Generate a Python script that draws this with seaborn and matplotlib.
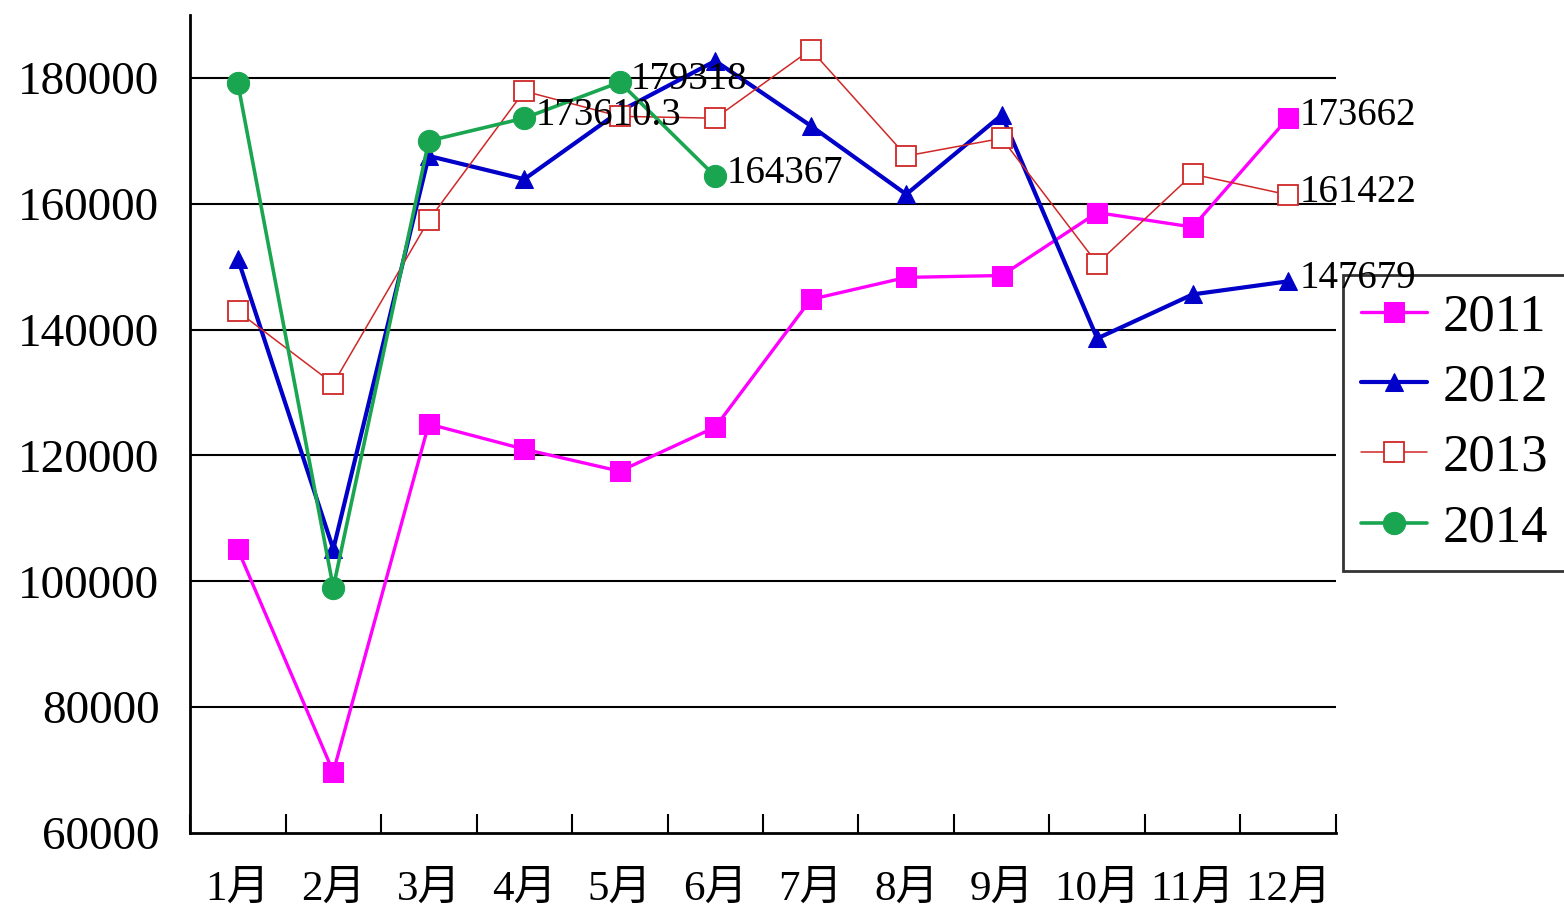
import numpy as np
import pandas as pd
import matplotlib
matplotlib.use("Agg")
import matplotlib.pyplot as plt
import seaborn as sns

months = ["1月", "2月", "3月", "4月", "5月", "6月",
          "7月", "8月", "9月", "10月", "11月", "12月"]

v2011 = [105100, 69700, 125000, 121000, 117500, 124500,
         144800, 148300, 148600, 158600, 156300, 173662]
v2012 = [151300, 105100, 167600, 163900, 174700, 182700,
         172400, 161500, 174100, 138600, 145600, 147679]
v2013 = [142900, 131400, 157400, 177900, 173900, 173600,
         184500, 167600, 170400, 150500, 164700, 161422]
v2014 = [179200, 99000, 170000, 173610.3, 179318, 164367]

yticks = [60000, 80000, 100000, 120000, 140000, 160000, 180000]

# series / month index that carry a value label
labelled = [("2011", 11), ("2013", 11), ("2012", 11),
            ("2014", 3), ("2014", 4), ("2014", 5)]

sns.set_theme(style="white")
plt.rcParams["font.family"] = ["Liberation Serif", "Noto Sans CJK SC"]
plt.rcParams["text.color"] = "black"
plt.rcParams["xtick.color"] = "black"
plt.rcParams["ytick.color"] = "black"

fig = plt.figure(figsize=(15.64, 9.15), dpi=100)
ax = fig.add_axes([0.1215, 0.0896, 0.7327, 0.894])

styles = {
    "2011": dict(color="#FF00FF", marker="s", markersize=15, linewidth=2.4,
                 markerfacecolor="#FF00FF", markeredgecolor="#FF00FF"),
    "2012": dict(color="#0000C8", marker="^", markersize=13, linewidth=3.0,
                 markerfacecolor="#0000C8", markeredgecolor="#0000C8"),
    "2013": dict(color="#D02828", marker="s", markersize=14, linewidth=1.1,
                 markerfacecolor="white", markeredgecolor="#D02828",
                 markeredgewidth=1.3),
    "2014": dict(color="#1AA650", marker="o", markersize=16, linewidth=2.6,
                 markerfacecolor="#1AA650", markeredgecolor="#1AA650"),
}

series = {"2011": v2011, "2012": v2012, "2013": v2013, "2014": v2014}
for name, vals in series.items():
    x = np.arange(len(vals))
    sns.lineplot(x=x, y=vals, ax=ax, label=name, **styles[name])

for name, i in labelled:
    val = series[name][i]
    txt = str(val)
    ax.annotate(txt, (i, val), xytext=(8, 2), textcoords="offset points",
                va="center", ha="left", fontsize=28, color="black",
                annotation_clip=False, zorder=10)

ax.set_xlim(-0.5, 11.5)
ax.set_ylim(60000, 190000)
ax.set_yticks(yticks)
ax.set_yticklabels([str(t) for t in yticks])
ax.set_xticks(np.arange(12))
ax.set_xticklabels(months)
ax.set_xticks(np.arange(-0.5, 12, 1), minor=True)
ax.tick_params(axis="x", which="major", length=0, pad=27, labelsize=31)
ax.tick_params(axis="x", which="minor", direction="in", length=14,
               width=1.5, color="black", bottom=True)
ax.tick_params(axis="y", length=0, pad=22, labelsize=34)
ax.set_xlabel("")
ax.set_ylabel("")

for t in yticks[1:]:
    ax.axhline(t, color="black", linewidth=1.5, zorder=0)

sns.despine(ax=ax, top=True, right=True)
for s in ["left", "bottom"]:
    ax.spines[s].set_color("black")
    ax.spines[s].set_linewidth(2)

leg = ax.legend(loc="upper left", bbox_to_anchor=(1.006, 0.682),
                frameon=True, fancybox=False, fontsize=38,
                handlelength=1.25, labelspacing=0.42, borderpad=0.35,
                handletextpad=0.3, borderaxespad=0)
leg.get_frame().set_edgecolor("black")
leg.get_frame().set_linewidth(2)
leg.set_zorder(5)

fig.savefig("out.png", dpi=100)
